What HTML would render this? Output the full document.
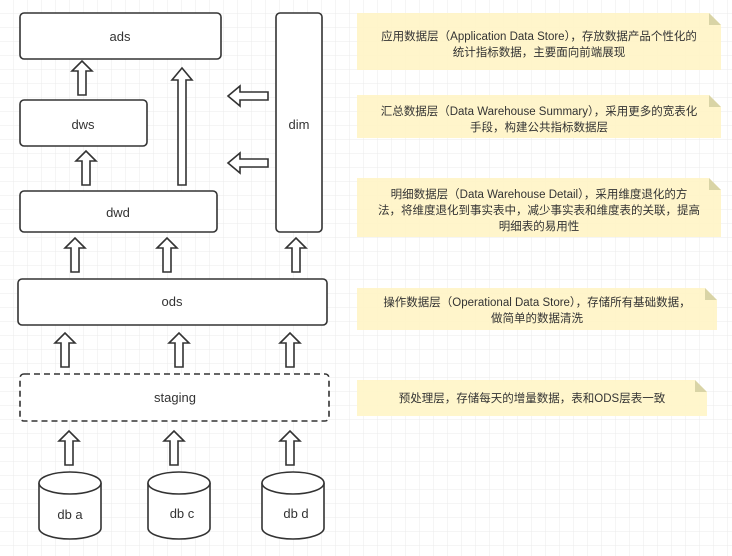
<!DOCTYPE html>
<html><head><meta charset="utf-8"><style>
html,body{margin:0;padding:0;background:#fff;}
svg{display:block}
text{font-family:"Liberation Sans","Noto Sans CJK SC",sans-serif;fill:#333;}
</style></head><body>
<svg width="732" height="556" viewBox="0 0 732 556" xmlns="http://www.w3.org/2000/svg">
<defs>
<pattern id="g" width="14" height="14" patternUnits="userSpaceOnUse">
<path d="M14 0V14H0" fill="none" stroke="#ebebeb" stroke-width="1"/>
</pattern>
<g id="up"><path d="M-4 0V-24H-10L0 -34L10 -24H4V0Z" fill="#fff" stroke="#333" stroke-width="1.6"/></g>
<g id="left"><path d="M0 -4H-28V-10L-40 0L-28 10V4H0Z" fill="#fff" stroke="#333" stroke-width="1.6"/></g>
</defs>
<rect width="732" height="556" fill="url(#g)"/>
<g fill="#fff" stroke="#333" stroke-width="1.6">
<rect x="20" y="13" width="201" height="46" rx="4"/>
<rect x="20" y="100" width="127" height="46" rx="4"/>
<rect x="20" y="191" width="197" height="41" rx="4"/>
<rect x="276" y="13" width="46" height="219" rx="4"/>
<rect x="18" y="279" width="309" height="46" rx="4"/>
<rect x="20" y="374" width="309" height="47" rx="4" stroke-dasharray="6,4"/>
</g>
<g font-size="13" text-anchor="middle">
<text x="120" y="41">ads</text>
<text x="83" y="129">dws</text>
<text x="118" y="217">dwd</text>
<text x="299" y="129">dim</text>
<text x="172" y="306">ods</text>
<text x="175" y="402">staging</text>
</g>
<!-- arrows -->
<use href="#up" x="82" y="95"/>
<path d="M178 185V80H172L182 68L192 80H186V185Z" fill="#fff" stroke="#333" stroke-width="1.6"/>
<use href="#left" x="268" y="96"/>
<use href="#left" x="268" y="163"/>
<use href="#up" x="86" y="185"/>
<use href="#up" x="75" y="272"/>
<use href="#up" x="167" y="272"/>
<use href="#up" x="296" y="272"/>
<use href="#up" x="65" y="367"/>
<use href="#up" x="179" y="367"/>
<use href="#up" x="290" y="367"/>
<use href="#up" x="69" y="465"/>
<use href="#up" x="174" y="465"/>
<use href="#up" x="290" y="465"/>
<!-- cylinders -->
<g fill="#fff" stroke="#333" stroke-width="1.6">
<path d="M39 483V528A31 11 0 0 0 101 528V483"/><ellipse cx="70" cy="483" rx="31" ry="11"/>
<path d="M148 483V528A31 11 0 0 0 210 528V483"/><ellipse cx="179" cy="483" rx="31" ry="11"/>
<path d="M262 483V528A31 11 0 0 0 324 528V483"/><ellipse cx="293" cy="483" rx="31" ry="11"/>
</g>
<g font-size="13" text-anchor="middle">
<text x="70" y="519">db a</text>
<text x="182" y="518">db c</text>
<text x="296" y="518">db d</text>
</g>
<!-- notes -->
<g fill="#fff5c9" opacity="0.95">
<path d="M357 13H709L721 25V70H357Z"/>
<path d="M357 95H709L721 107V138H357Z"/>
<path d="M357 178H709L721 190V237H357Z"/>
<path d="M357 288H705L717 300V330H357Z"/>
<path d="M357 380H695L707 392V416H357Z"/>
</g>
<g fill="#d9d4a6">
<path d="M709 13L721 25H709Z"/>
<path d="M709 95L721 107H709Z"/>
<path d="M709 178L721 190H709Z"/>
<path d="M705 288L717 300H705Z"/>
<path d="M695 380L707 392H695Z"/>
</g>
<g font-size="11.5" text-anchor="middle">
<text x="539" y="40">应用数据层（Application Data Store），存放数据产品个性化的</text>
<text x="539" y="56">统计指标数据，主要面向前端展现</text>
<text x="539" y="115">汇总数据层（Data Warehouse Summary），采用更多的宽表化</text>
<text x="539" y="131">手段，构建公共指标数据层</text>
<text x="539" y="198">明细数据层（Data Warehouse Detail），采用维度退化的方</text>
<text x="539" y="214">法，将维度退化到事实表中，减少事实表和维度表的关联，提高</text>
<text x="539" y="230">明细表的易用性</text>
<text x="537" y="306">操作数据层（Operational Data Store），存储所有基础数据，</text>
<text x="537" y="322">做简单的数据清洗</text>
<text x="532" y="402">预处理层，存储每天的增量数据，表和ODS层表一致</text>
</g>
</svg>
</body></html>
